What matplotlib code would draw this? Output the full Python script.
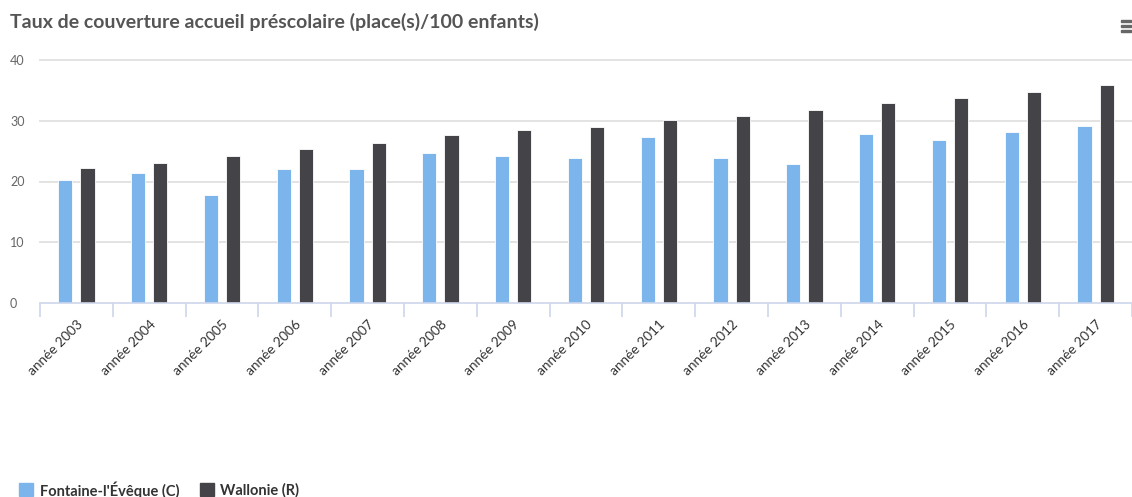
import matplotlib
matplotlib.use("Agg")
import matplotlib.pyplot as plt
import numpy as np
from matplotlib.patches import Rectangle

# data
years = ["année %d" % y for y in range(2003, 2018)]
fontaine = [20.2, 21.4, 17.8, 22.0, 22.0, 24.7, 24.2, 23.8, 27.4, 23.9, 22.9, 27.8, 26.9, 28.1, 29.1]
wallonie = [22.2, 23.0, 24.2, 25.3, 26.3, 27.6, 28.4, 29.0, 30.2, 30.7, 31.7, 32.9, 33.8, 34.8, 35.9]
series_names = ["Fontaine-l'Évêque (C)", "Wallonie (R)"]
series_colors = ["#7cb5ec", "#434348"]
yticks = [0, 10, 20, 30, 40]

plt.rcParams['font.family'] = ['Lato', 'DejaVu Sans']

W, H = 1132, 497
fig = plt.figure(figsize=(W / 100, H / 100), dpi=100, facecolor='w')

# plot area in pixels
left, right, top, bottom = 40, 1132, 60, 303
cat_w = 73.3
ax = fig.add_axes([left / W, 1 - bottom / H, (right - left) / W, (bottom - top) / H])
ax.set_xlim(-0.5, -0.5 + (right - left) / cat_w)
ax.set_ylim(0, 40)

x = np.arange(len(years))
bw = 0.195
off = 0.153
ax.bar(x - off, fontaine, width=bw, color=series_colors[0], edgecolor='white', linewidth=0.6, zorder=3)
ax.bar(x + off, wallonie, width=bw, color=series_colors[1], edgecolor='white', linewidth=0.6, zorder=3)

for y in yticks[1:]:
    ax.axhline(y, color='#e0e0e0', lw=1.3, zorder=1, clip_on=False)

for s in ['top', 'right', 'left']:
    ax.spines[s].set_visible(False)
ax.spines['bottom'].set_color('#ccd6eb')
ax.spines['bottom'].set_linewidth(1.2)
ax.spines['bottom'].set_zorder(4)

ax.set_yticks(yticks)
ax.set_yticklabels([str(v) for v in yticks], color='#666666', fontsize=9)
for lab in ax.get_yticklabels():
    lab.set_horizontalalignment('left')
ax.tick_params(axis='y', length=0, pad=21.6)

# category boundary tick marks
ax.set_xticks(np.arange(len(years) + 1) - 0.5, minor=True)
ax.tick_params(axis='x', which='minor', length=10, color='#ccd6eb', width=1.2)
ax.set_xticks(x)
ax.set_xticklabels(years, rotation=45, ha='right', rotation_mode='anchor',
                   color='#333333', fontsize=9.8)
ax.tick_params(axis='x', which='major', length=0, pad=11)

# title
fig.text(10 / W, 1 - 22 / H, "Taux de couverture accueil préscolaire (place(s)/100 enfants)",
         fontsize=14, fontweight='bold', color='#555555', va='center', ha='left')

# menu icon
for dy in (21, 26, 31):
    fig.add_artist(Rectangle((1121 / W, 1 - (dy + 1) / H), 10 / W, 2.2 / H,
                             transform=fig.transFigure, color='#666666'))

# legend
lx = 19
for name, col in zip(series_names, series_colors):
    fig.add_artist(Rectangle((lx / W, 1 - 496 / H), 14 / W, 13 / H,
                             transform=fig.transFigure, color=col, clip_on=False))
    t = fig.text((lx + 21) / W, 1 - 490 / H, name, fontsize=10.5, fontweight='bold',
                 color='#333333', va='center', ha='left')
    fig.canvas.draw()
    bb = t.get_window_extent()
    lx = bb.x1 + 20

fig.savefig("out.png", dpi=100)
